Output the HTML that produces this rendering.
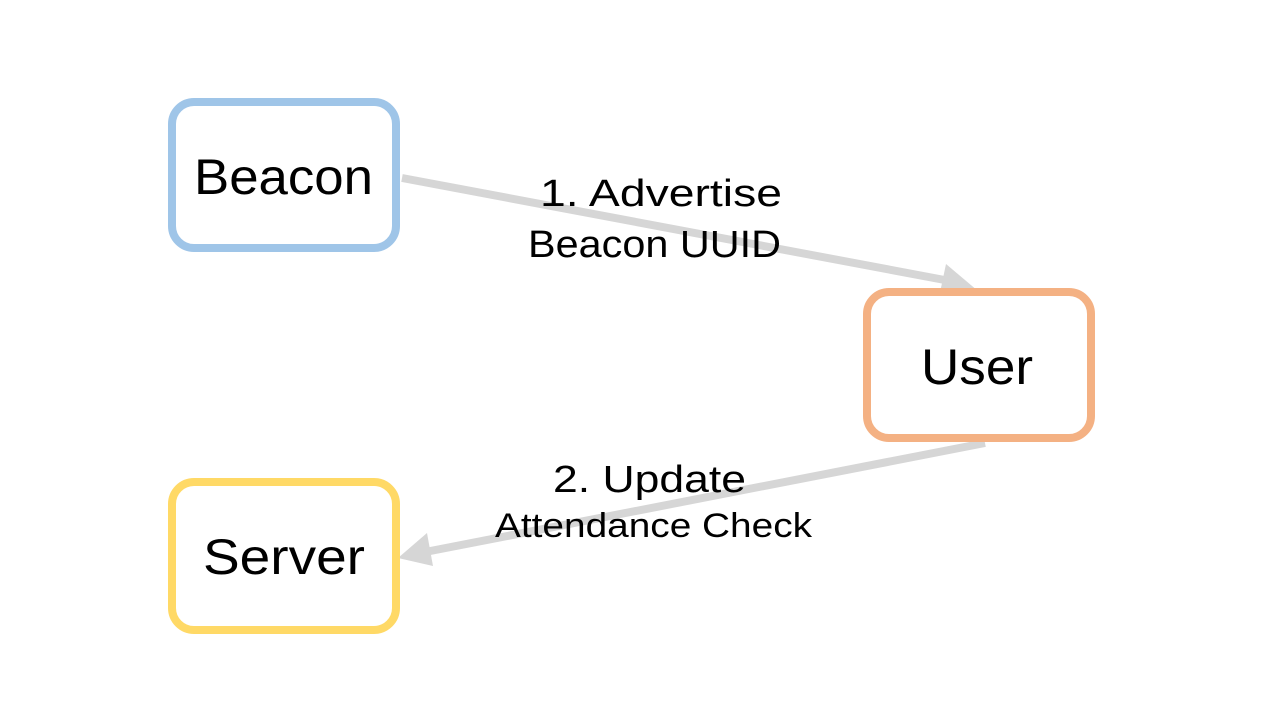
<!DOCTYPE html>
<html><head><meta charset="utf-8"><style>
html,body{margin:0;padding:0;background:#fff;}
svg{display:block;}
text{font-family:"Liberation Sans","Noto Sans CJK KR",sans-serif;fill:#000;}
</style></head><body>
<svg width="1280" height="720" viewBox="0 0 1280 720" xmlns="http://www.w3.org/2000/svg">
<rect width="1280" height="720" fill="#fff"/>
<line x1="402" y1="178" x2="950" y2="281" stroke="#d6d6d6" stroke-width="8"/>
<polygon points="978,291 946,264 938,302" fill="#d6d6d6"/>
<line x1="985" y1="443" x2="420" y2="553" stroke="#d6d6d6" stroke-width="8"/>
<polygon points="398,558 427,533 433,566" fill="#d6d6d6"/>
<rect x="172" y="102" width="224" height="146" rx="22" fill="#fff" stroke="#9fc5e8" stroke-width="8"/>
<rect x="867" y="292" width="224" height="146" rx="22" fill="#fff" stroke="#f4b183" stroke-width="8"/>
<rect x="172" y="482" width="224" height="148" rx="22" fill="#fff" stroke="#ffd966" stroke-width="8"/>
<text x="194" y="194" font-size="50" textLength="179" lengthAdjust="spacingAndGlyphs">Beacon</text>
<text x="921" y="384" font-size="50" textLength="112" lengthAdjust="spacingAndGlyphs">User</text>
<text x="203" y="574" font-size="50" textLength="162" lengthAdjust="spacingAndGlyphs">Server</text>
<text x="540" y="206" font-size="38" textLength="242" lengthAdjust="spacingAndGlyphs">1. Advertise</text>
<text x="528" y="257" font-size="38" textLength="253" lengthAdjust="spacingAndGlyphs">Beacon UUID</text>
<text x="553" y="492" font-size="38" textLength="193" lengthAdjust="spacingAndGlyphs">2. Update</text>
<text x="495" y="537" font-size="34" textLength="317" lengthAdjust="spacingAndGlyphs">Attendance Check</text>
</svg>
</body></html>
